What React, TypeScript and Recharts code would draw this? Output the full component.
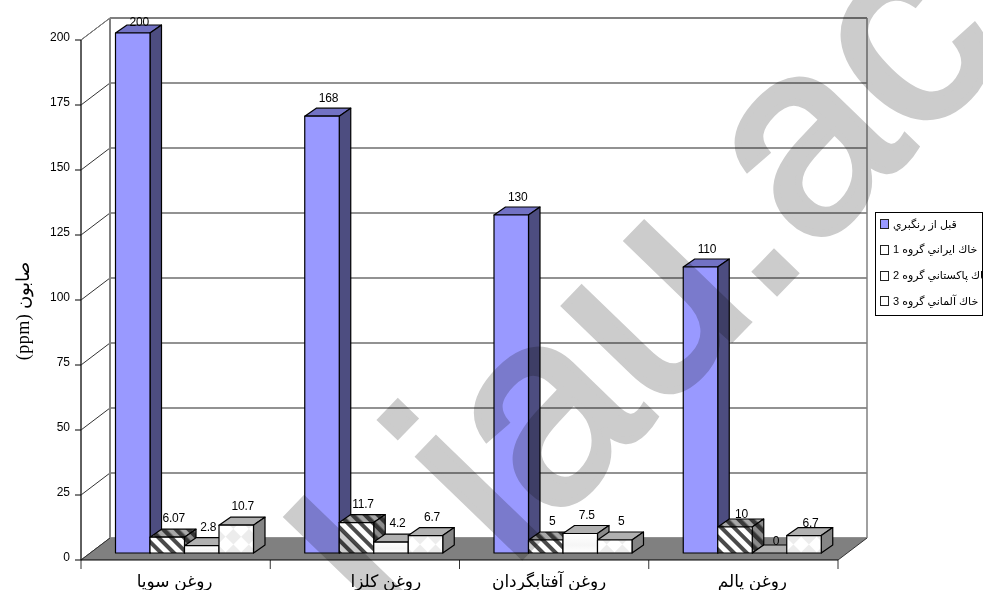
import React from "react";
import {
  ComposedChart, Bar, XAxis, YAxis, CartesianGrid, Legend, LabelList, ReferenceArea,
} from "recharts";

const categories = ["روغن سويا", "روغن كلزا", "روغن آفتابگردان", "روغن پالم"];
const beforeBleaching = [200, 168, 130, 110];
const iranianSoil = [6.07, 11.7, 5, 10];
const pakistaniSoil = [2.8, 4.2, 7.5, 0];
const germanSoil = [10.7, 6.7, 5, 6.7];
const seriesNames = ["قبل از رنگبري", "خاك ايراني گروه 1", "خاك پاكستاني گروه 2", "خاك آلماني گروه 3"];
const yTicks = [0, 25, 50, 75, 100, 125, 150, 175, 200];
const axisTitle = "(ppm) صابون";
const watermark = "l iau.ac";

const rows = categories.map((name, i) => ({
  name,
  s0: beforeBleaching[i],
  s1: iranianSoil[i],
  s2: pakistaniSoil[i],
  s3: germanSoil[i],
}));

const SANS = '"Liberation Sans", Arial, "DejaVu Sans", sans-serif';
const WALL_DX = 29;
const WALL_DY = -22;
const BAR_DX = 8.5;
const BAR_DY = -7;
const DEPTH_X = 11.5;
const DEPTH_Y = -8;
const CATEGORY_LABEL_SHIFT = [-1, 21, -5, 9];

type Faces = { front: string; top: string; side: string };
const faces: Faces[] = [
  { front: "#9999ff", top: "#7272c4", side: "#4d4d80" },
  { front: "url(#stripeFront)", top: "url(#stripeTop)", side: "url(#stripeSide)" },
  { front: "url(#softFront)", top: "#b0b0b0", side: "#8a8a8a" },
  { front: "url(#diamondFront)", top: "#b0b0b0", side: "#858585" },
];

const makeShape = (f: Faces) => (props: any) => {
  const x = props.x + BAR_DX;
  const y = props.y + BAR_DY;
  const w = props.width;
  const h = props.height;
  const stroke = { stroke: "#000", strokeWidth: 1.2, strokeLinejoin: "round" as const };
  return (
    <g>
      <polygon
        points={`${x},${y} ${x + DEPTH_X},${y + DEPTH_Y} ${x + w + DEPTH_X},${y + DEPTH_Y} ${x + w},${y}`}
        fill={f.top}
        {...stroke}
      />
      <polygon
        points={`${x + w},${y} ${x + w + DEPTH_X},${y + DEPTH_Y} ${x + w + DEPTH_X},${y + h + DEPTH_Y} ${x + w},${y + h}`}
        fill={f.side}
        {...stroke}
      />
      <rect x={x} y={y} width={w} height={h} fill={f.front} {...stroke} />
    </g>
  );
};

const labelLift = (value: number, index: number) => {
  if (value >= 200) return 18;
  if (value === 0) return 19;
  if (index === 3 && value < 50) return 20;
  return value < 13 ? 26 : 25;
};

const renderLabel = (props: any) => {
  const { x, y, width, value, index } = props;
  return (
    <text
      x={x + width / 2 + 15}
      y={y - labelLift(value, index)}
      textAnchor="middle"
      dominantBaseline="central"
      fontFamily={SANS}
      fontSize={12}
      letterSpacing={-0.2}
      fill="#000"
    >
      {value}
    </text>
  );
};

const Walls = (props: any) => {
  const { x, y, width, height } = props;
  const b = y + height;
  const r = x + width;
  const step = width / categories.length;
  return (
    <g>
      <polygon
        points={`${x},${b} ${x + WALL_DX},${b + WALL_DY} ${r + WALL_DX},${b + WALL_DY} ${r},${b}`}
        fill="#808080"
        stroke="none"
      />
      <line x1={x} y1={y} x2={x + WALL_DX} y2={y + WALL_DY} stroke="#808080" />
      <line x1={x} y1={b} x2={x + WALL_DX} y2={b + WALL_DY} stroke="#333" />
      <line x1={r} y1={b} x2={r + WALL_DX} y2={b + WALL_DY} stroke="#333" />
      <line x1={x + WALL_DX} y1={y + WALL_DY} x2={x + WALL_DX} y2={b + WALL_DY} stroke="#808080" strokeWidth={2} />
      <line x1={r + WALL_DX} y1={y + WALL_DY} x2={r + WALL_DX} y2={b + WALL_DY} stroke="#808080" strokeWidth={1.5} />
      <line x1={x + WALL_DX} y1={y + WALL_DY} x2={r + WALL_DX} y2={y + WALL_DY} stroke="#808080" strokeWidth={2} />
      <line x1={x} y1={y} x2={x} y2={b} stroke="#808080" strokeWidth={1} />
      {[0, 1, 2, 3, 4].map((i) => (
        <line key={i} x1={x + i * step} y1={b} x2={x + i * step} y2={b + 9} stroke="#333" strokeWidth={1} />
      ))}
    </g>
  );
};

const gridLine = (props: any) => {
  const { x1, x2, y1, key } = props;
  return (
    <g key={key}>
      <line x1={x1} y1={y1} x2={x1 + WALL_DX} y2={y1 + WALL_DY} stroke="#333" strokeWidth={1} />
      <line x1={x1 + WALL_DX} y1={y1 + WALL_DY} x2={x2 + WALL_DX} y2={y1 + WALL_DY} stroke="#6e6e6e" strokeWidth={1.5} />
    </g>
  );
};

const CategoryTick = (props: any) => {
  const { x, payload, index } = props;
  return (
    <text
      x={x + CATEGORY_LABEL_SHIFT[index]}
      y={581}
      textAnchor="middle"
      dominantBaseline="central"
      fontFamily={SANS}
      fontSize={17}
      fill="#000"
    >
      {payload.value}
    </text>
  );
};

const ValueTick = (props: any) => {
  const { x, y, payload } = props;
  return (
    <text x={x} y={y - 3} textAnchor="end" dominantBaseline="central" fontFamily={SANS} fontSize={12} fill="#000">
      {payload.value}
    </text>
  );
};

const AxisTitle = (props: any) => {
  const vb = props.viewBox;
  const cx = 23;
  const cy = vb.y + vb.height / 2 + 11;
  return (
    <text
      x={cx}
      y={cy}
      transform={`rotate(-90 ${cx} ${cy})`}
      textAnchor="middle"
      dominantBaseline="central"
      fontFamily={'"Liberation Serif", serif'}
      fontSize={18}
      letterSpacing={0.5}
      fill="#000"
    >
      {axisTitle}
    </text>
  );
};

const swatchStyles = ["#9999ff", "#ffffff", "#ffffff", "#ffffff"];

const LegendBox = () => (
  <div
    style={{
      width: 108,
      height: 104,
      boxSizing: "border-box",
      border: "1px solid #000",
      background: "#fff",
      fontFamily: SANS,
      fontSize: 11,
      color: "#000",
      position: "relative",
    }}
  >
    {seriesNames.map((n, i) => (
      <div
        key={n}
        style={{
          position: "absolute",
          left: 4,
          top: 3 + i * 25.8,
          height: 16,
          display: "flex",
          alignItems: "center",
          whiteSpace: "nowrap",
        }}
      >
        <span
          style={{
            width: 7,
            height: 8,
            border: "1.5px solid #222",
            background: swatchStyles[i],
            display: "inline-block",
            marginRight: 4,
            flex: "none",
          }}
        />
        <span dir="rtl" style={{ display: "inline-block" }}>{n}</span>
      </div>
    ))}
  </div>
);

export default function App() {
  return (
    <div style={{ position: "absolute", left: 0, top: 0, width: 983, height: 590, overflow: "hidden", background: "#fff" }}>
      <ComposedChart
        width={983}
        height={590}
        data={rows}
        margin={{ top: 40, right: 145, bottom: 0, left: 0 }}
        barGap={0}
        barSize={34.5}
      >
        <defs>
          <pattern id="stripeFront" width="9" height="9" patternUnits="userSpaceOnUse" patternTransform="rotate(-45)">
            <rect width="9" height="9" fill="#fff" />
            <rect width="4" height="9" fill="#4a4a4a" />
          </pattern>
          <pattern id="stripeTop" width="9" height="9" patternUnits="userSpaceOnUse" patternTransform="rotate(-45)">
            <rect width="9" height="9" fill="#a8a8a8" />
            <rect width="4.5" height="9" fill="#3a3a3a" />
          </pattern>
          <pattern id="stripeSide" width="9" height="9" patternUnits="userSpaceOnUse" patternTransform="rotate(-45)">
            <rect width="9" height="9" fill="#8c8c8c" />
            <rect width="4.5" height="9" fill="#333" />
          </pattern>
          <linearGradient id="softFront" x1="0" y1="0" x2="0" y2="1">
            <stop offset="0" stopColor="#ffffff" />
            <stop offset="0.6" stopColor="#f6f6f6" />
            <stop offset="1" stopColor="#ffffff" />
          </linearGradient>
          <pattern id="diamondFront" width="22" height="22" patternUnits="userSpaceOnUse" patternTransform="rotate(45)">
            <rect width="22" height="22" fill="#ffffff" />
            <rect width="11" height="11" fill="#ececec" />
            <rect x="11" y="11" width="11" height="11" fill="#ececec" />
          </pattern>
        </defs>
        <ReferenceArea y1={0} y2={200} shape={Walls} ifOverflow="visible" />
        <CartesianGrid vertical={false} horizontal={gridLine} />
        <XAxis dataKey="name" stroke="#000" tickLine={false} tick={CategoryTick} height={30} interval={0} />
        <YAxis
          domain={[0, 200]}
          ticks={yTicks}
          width={81}
          stroke="#000"
          tickSize={6}
          tick={ValueTick}
          tickMargin={5}
          label={{ content: AxisTitle, position: "insideLeft" }}
        />
        <Legend
          layout="vertical"
          align="center"
          verticalAlign="middle"
          content={<LegendBox />}
          wrapperStyle={{ position: "absolute", left: 875, top: 212, width: 108, height: 104, margin: 0 }}
        />
        {(["s0", "s1", "s2", "s3"] as const).map((k, i) => (
          <Bar key={k} dataKey={k} name={seriesNames[i]} shape={makeShape(faces[i])} isAnimationActive={false}>
            <LabelList dataKey={k} content={renderLabel} />
          </Bar>
        ))}
      </ComposedChart>
      <div
        style={{
          position: "absolute",
          left: 446,
          top: 425,
          fontFamily: SANS,
          fontSize: 270,
          lineHeight: 1,
          color: "#cccccc",
          whiteSpace: "pre",
          WebkitTextStroke: "7px #cccccc",
          transform: "rotate(-46deg)",
          transformOrigin: "0 100%",
          mixBlendMode: "multiply",
          pointerEvents: "none",
        }}
      >
        {watermark}
      </div>
    </div>
  );
}
